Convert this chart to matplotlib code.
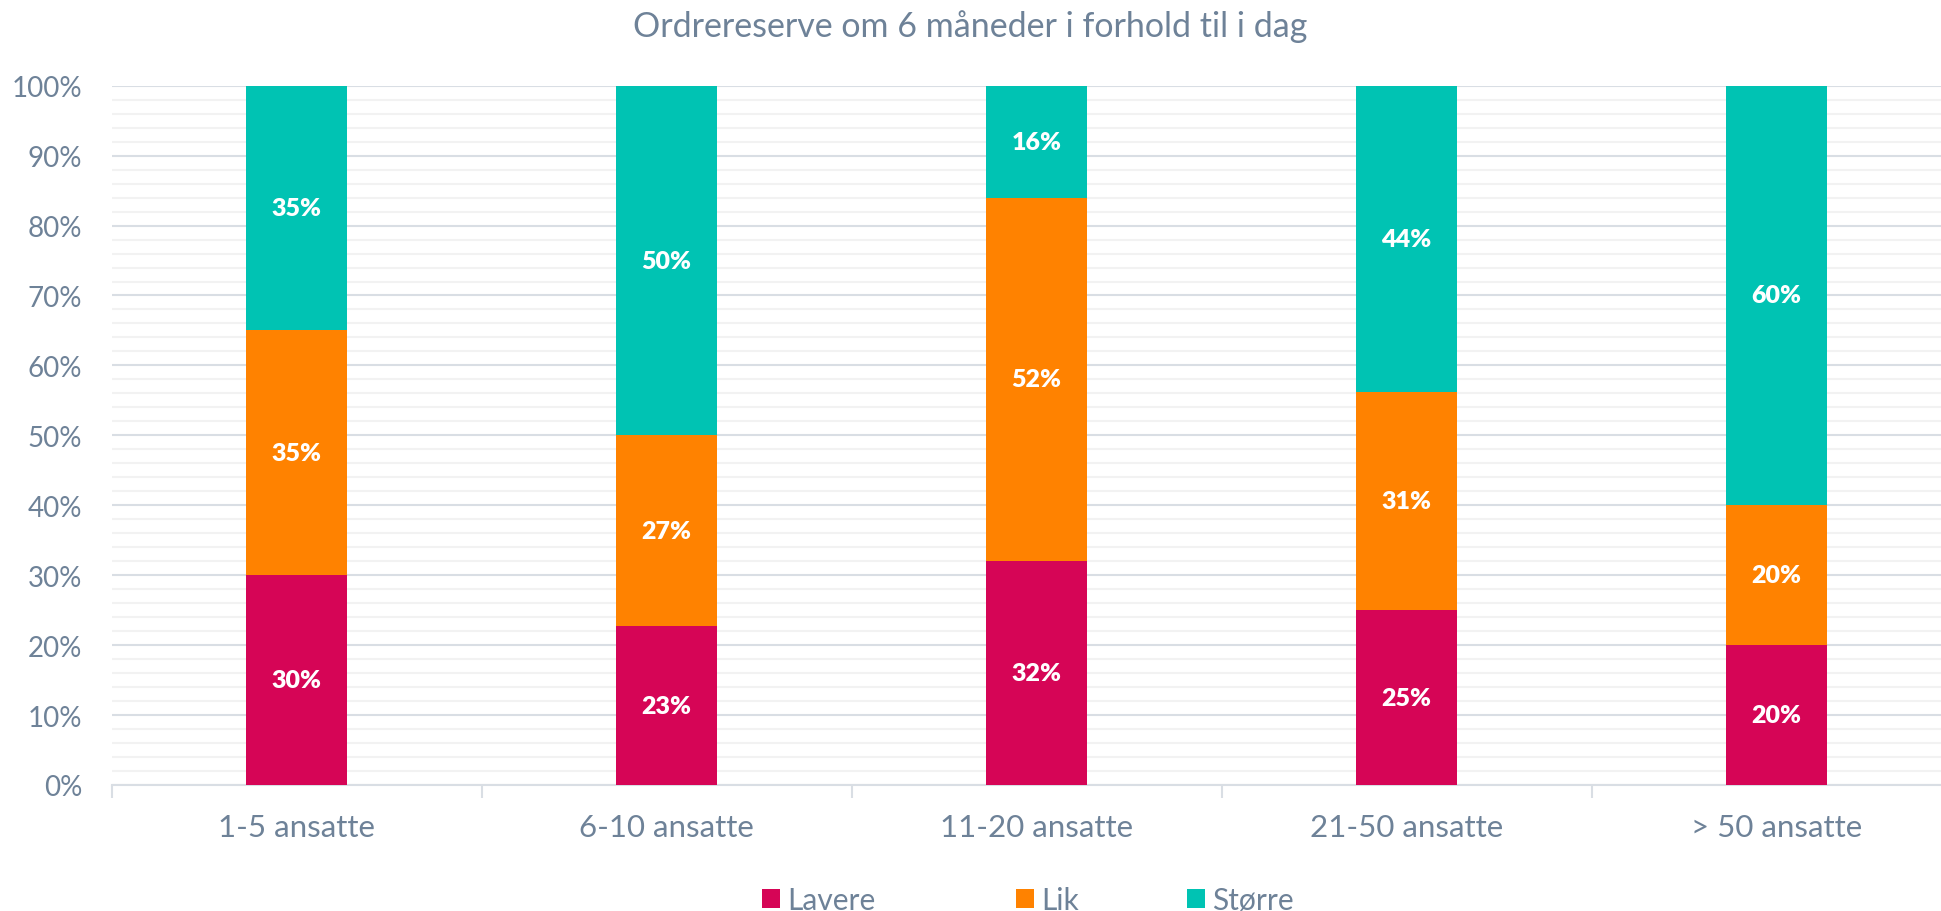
import matplotlib
matplotlib.use("Agg")
import matplotlib.pyplot as plt
from matplotlib.ticker import MultipleLocator, PercentFormatter
import numpy as np

categories = ["1-5 ansatte", "6-10 ansatte", "11-20 ansatte", "21-50 ansatte", "> 50 ansatte"]
lavere = [30.0, 22.7, 32.0, 25.0, 20.0]
lik = [35.0, 27.3, 52.0, 31.25, 20.0]
storre = [35.0, 50.0, 16.0, 43.75, 60.0]
series_names = ["Lavere", "Lik", "Større"]
colors = ["#D60556", "#FF8200", "#00C3B3"]
title = "Ordrereserve om 6 måneder i forhold til i dag"

txt = "#6E8298"
plt.rcParams['font.family'] = ['Lato', 'DejaVu Sans']

W, H = 1941, 912
fig = plt.figure(figsize=(W / 100, H / 100), dpi=100)
ax = fig.add_axes([111.5 / W, (H - 786) / H, 1850 / W, (786 - 86.7) / H])

x = np.arange(len(categories))
bw = 0.273
bottom = np.zeros(len(categories))
handles = []
for vals, name, c in zip([lavere, lik, storre], series_names, colors):
    vals = np.array(vals)
    b = ax.bar(x, vals, bw, bottom=bottom, color=c, label=name, zorder=3)
    handles.append(b)
    for xi, v, b0 in zip(x, vals, bottom):
        ax.text(xi, b0 + v / 2, f"{v:.0f}%", ha='center', va='center',
                color='white', fontsize=18, fontweight='heavy', zorder=4)
    bottom += vals

ax.set_xlim(-0.5, len(categories) - 0.5)
ax.set_ylim(0, 100)
ax.yaxis.set_major_locator(MultipleLocator(10))
ax.yaxis.set_minor_locator(MultipleLocator(2))
ax.yaxis.set_major_formatter(PercentFormatter(decimals=0))
ax.grid(axis='y', which='major', color='#D9DEE4', lw=1.5, zorder=1)
ax.grid(axis='y', which='minor', color='#F2F2F2', lw=1.5, zorder=0)
ax.tick_params(axis='y', which='both', length=0, pad=21, labelsize=20, labelcolor=txt)

ax.set_xticks(x)
ax.set_xticklabels(categories)
ax.set_xticks(np.arange(-0.5, len(categories)), minor=True)
ax.tick_params(axis='x', which='major', length=0, pad=20, labelsize=22.5, labelcolor=txt)
ax.tick_params(axis='x', which='minor', length=9, width=1.5, color='#D9DEE4', direction='out')

for s in ['top', 'right', 'left']:
    ax.spines[s].set_visible(False)
ax.spines['bottom'].set_color('#D9DEE4')
ax.spines['bottom'].set_linewidth(1.5)
ax.set_axisbelow(True)

fig.text(0.5, 1 - 27 / H, title, ha='center', va='center', fontsize=24.5, color=txt)

xs = [762, 1016, 1187]
for h, name, xp in zip(handles, series_names, xs):
    fig.legend([h], [name], loc='center left', bbox_to_anchor=(xp / W, 1 - 901 / H),
               frameon=False, fontsize=21.5, labelcolor=txt, handlelength=0.6,
               handleheight=0.6, handletextpad=0.25, borderpad=0, borderaxespad=0)

fig.savefig("out.png", dpi=100)
